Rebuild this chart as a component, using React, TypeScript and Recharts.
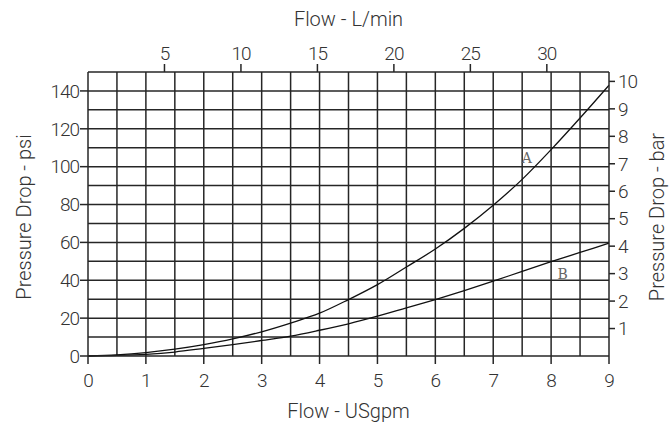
import { LineChart, Line, XAxis, YAxis, ReferenceLine, ReferenceDot, Label } from 'recharts'

// flow in US gpm, pressure drop in psi
const flowGpm = [0, 0.5, 1, 1.5, 2, 2.5, 3, 3.5, 4, 4.5, 5, 5.5, 6, 6.5, 7, 7.5, 8, 8.5, 9]
const curveA = [0, 0.6, 1.8, 3.6, 6, 9, 12.8, 17.4, 22.6, 29.8, 37.7, 47, 56.5, 67.4, 79.6, 93.3, 109, 125.7, 143]
const curveB = [0, 0.3, 0.9, 2.1, 4, 6, 8.2, 10.5, 13.6, 17, 21, 25.4, 29.8, 34.5, 39.5, 44.7, 49.8, 54.7, 59.6]

const gpmTicks = [0, 1, 2, 3, 4, 5, 6, 7, 8, 9]
const lpmTicks = [5, 10, 15, 20, 25, 30]
const psiTicks = [0, 20, 40, 60, 80, 100, 120, 140]
const barTicks = [1, 2, 3, 4, 5, 6, 7, 8, 9, 10]
const gridGpm = [0.5, 1, 1.5, 2, 2.5, 3, 3.5, 4, 4.5, 5, 5.5, 6, 6.5, 7, 7.5, 8, 8.5]
const gridPsi = [10, 20, 30, 40, 50, 60, 70, 80, 90, 100, 110, 120, 130, 140]

const GPM_MAX = 9
const PSI_MAX = 150
const LPM_PER_GPM = 3.785
const PSI_PER_BAR = 14.5038

const data = flowGpm.map((q, i) => ({ q, lpm: q * LPM_PER_GPM, A: curveA[i], B: curveB[i] }))

const INK = '#262626'
const tickStyle = { fill: '#333', fontSize: 19, fontFamily: 'Roboto, sans-serif', fontWeight: 300, letterSpacing: -1 }
const titleStyle = { fill: '#333', fontSize: 20, fontFamily: 'Roboto, sans-serif', fontWeight: 300 }
const curveLabel = { fill: '#666', fontSize: 14, fontFamily: "'DejaVu Serif', serif" }

export default function App() {
  return (
    <div style={{ position: 'absolute', left: 0, top: 0, width: 669, height: 424, background: '#fff' }}>
      <LineChart width={669} height={424} data={data} margin={{ top: 0, right: 0, bottom: 0, left: 0 }}>
        <XAxis
          dataKey="q"
          type="number"
          domain={[0, GPM_MAX]}
          ticks={gpmTicks}
          height={68}
          tickSize={8}
          tickMargin={10}
          tick={tickStyle}
          stroke={INK}
          strokeWidth={1.5}
        >
          <Label value="Flow - USgpm" position="insideBottom" offset={6} style={titleStyle} />
        </XAxis>
        <XAxis
          xAxisId="lpm"
          dataKey="lpm"
          orientation="top"
          type="number"
          domain={[0, GPM_MAX * LPM_PER_GPM]}
          ticks={lpmTicks}
          allowDataOverflow
          height={72}
          tickSize={8}
          tickMargin={4}
          tick={tickStyle}
          stroke={INK}
          strokeWidth={1.5}
        >
          <Label value="Flow - L/min" position="insideTop" offset={12} style={titleStyle} />
        </XAxis>
        <YAxis
          type="number"
          domain={[0, PSI_MAX]}
          ticks={psiTicks}
          width={88}
          tickSize={8}
          tickMargin={1}
          tick={tickStyle}
          stroke={INK}
          strokeWidth={1.5}
        >
          <Label
            value="Pressure Drop - psi"
            position="insideLeft"
            angle={-90}
            offset={24}
            dy={3}
            textAnchor="middle"
            style={{ ...titleStyle, textAnchor: 'middle' }}
          />
        </YAxis>
        <YAxis
          yAxisId="bar"
          orientation="right"
          type="number"
          domain={[0, PSI_MAX / PSI_PER_BAR]}
          ticks={barTicks}
          allowDataOverflow
          width={60}
          tickSize={6}
          tickMargin={3}
          tick={tickStyle}
          stroke={INK}
          strokeWidth={1.5}
        >
          <Label
            value="Pressure Drop - bar"
            position="insideRight"
            angle={-90}
            offset={12}
            dy={3}
            textAnchor="middle"
            style={{ ...titleStyle, textAnchor: 'middle' }}
          />
        </YAxis>

        {gridGpm.map((g) => (
          <ReferenceLine key={`gx-${g}`} x={g} stroke={INK} strokeWidth={1.5} />
        ))}
        {gridPsi.map((p) => (
          <ReferenceLine key={`gy-${p}`} y={p} stroke={INK} strokeWidth={1.5} />
        ))}

        <Line type="monotone" dataKey="A" stroke="#111" strokeWidth={1.3} dot={false} isAnimationActive={false} />
        <Line type="monotone" dataKey="B" stroke="#111" strokeWidth={1.3} dot={false} isAnimationActive={false} />

        <ReferenceDot x={7.58} y={104.6} r={0} fill="none" stroke="none">
          <Label value="A" position="center" style={curveLabel} />
        </ReferenceDot>
        <ReferenceDot x={8.2} y={43.5} r={0} fill="none" stroke="none">
          <Label value="B" position="center" style={curveLabel} />
        </ReferenceDot>
      </LineChart>
    </div>
  )
}
